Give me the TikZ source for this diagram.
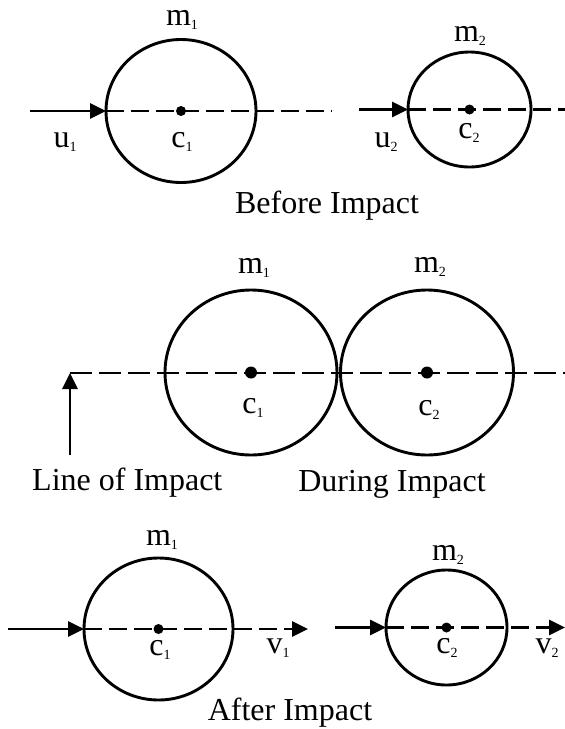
\documentclass[tikz,border=0pt]{standalone}
\usepackage{fontspec}
\setmainfont{Liberation Serif}
\usetikzlibrary{arrows.meta,shapes.geometric}
\newcommand{\sbs}[1]{\raisebox{-4pt}{\fontsize{14}{14}\selectfont #1}}
\begin{document}
\begin{tikzpicture}[x=1pt,y=-1pt,
  ball/.style={draw, ellipse, line width=2.9pt, inner sep=0pt, outer sep=0pt},
  dotc/.style={circle, fill, inner sep=0pt, minimum size=#1},
  dotc/.default=10pt,
  lbl/.style={anchor=base, inner sep=0pt, font=\fontsize{32}{38}\selectfont},
  arr/.style={line width=2.9pt, -{Triangle[length=16pt,width=15pt]}},
  dsh/.style={line width=2.9pt, dash pattern=on 18pt off 7pt},
  dshlong/.style={line width=2.9pt, dash pattern=on 22pt off 7pt}]
\useasboundingbox (0,0) rectangle (565,729);

% ---------- Before impact ----------
\node[ball, minimum width=150pt, minimum height=143pt] (A1) at (181,111) {};
\node[ball, minimum width=123pt, minimum height=115pt] (A2) at (469.5,109.5) {};
\coordinate (a1s) at (30,111);
\coordinate (a1e) at (332,111);
\coordinate (a2s) at (359,109.5);
\coordinate (a2e) at (565,109.5);
\draw[dsh] (A1.west) -- (a1e);
\draw[arr] (a1s) -- (A1.west);
\draw[dsh] (A2.west) -- (a2e);
\draw[arr] (a2s) -- (A2.west);
\node[dotc] (A1c) at (A1.center) {};
\node[dotc] (A2c) at (A2.center) {};
\node[lbl] (tm1) at (182,25) {m\sbs{1}};
\node[lbl] (tu1) at (65,147) {u\sbs{1}};
\node[lbl] (tc1) at (182,147) {c\sbs{1}};
\node[lbl] (tm2) at (470,41) {m\sbs{2}};
\node[lbl] (tu2) at (386,147) {u\sbs{2}};
\node[lbl] (tc2) at (469,138) {c\sbs{2}};
\node[lbl] (tbefore) at (327,213) {Before Impact};

% ---------- During impact ----------
\node[ball, minimum width=172pt, minimum height=165pt] (B1) at (251,372.5) {};
\node[ball, minimum width=173pt, minimum height=165pt] (B2) at (427,372.5) {};
\coordinate (loiS) at (70,455);
\coordinate (loiE) at (70,373);
\coordinate (midE) at (565,373);
\draw[dshlong] (loiE) -- (midE);
\draw[arr] (loiS) -- (loiE);
\node[dotc=12pt] (B1c) at (B1.center) {};
\node[dotc=12pt] (B2c) at (B2.center) {};
\node[lbl] (dm1) at (254,273) {m\sbs{1}};
\node[lbl] (dm2) at (430,272) {m\sbs{2}};
\node[lbl] (dc1) at (253,413) {c\sbs{1}};
\node[lbl] (dc2) at (429,415) {c\sbs{2}};
\node[lbl, anchor=base west] (tloi) at (32,490) {Line of Impact};
\node[lbl] (tduring) at (392,491) {During Impact};

% ---------- After impact ----------
\node[ball, minimum width=149pt, minimum height=142pt] (C1) at (158.5,629) {};
\node[ball, minimum width=121pt, minimum height=115pt] (C2) at (446.5,627.5) {};
\coordinate (b1s) at (8,629);
\coordinate (b1e) at (308,629);
\coordinate (b2s) at (335,627.5);
\coordinate (b2e) at (565,627.5);
\draw[dsh, arr] (C1.west) -- (b1e);
\draw[arr] (b1s) -- (C1.west);
\draw[dsh, arr] (C2.west) -- (b2e);
\draw[arr] (b2s) -- (C2.west);
\node[dotc] (C1c) at (C1.center) {};
\node[dotc] (C2c) at (C2.center) {};
\node[lbl] (am1) at (162,545) {m\sbs{1}};
\node[lbl] (am2) at (448,560) {m\sbs{2}};
\node[lbl] (ac1) at (160,655) {c\sbs{1}};
\node[lbl] (av1) at (278,653) {v\sbs{1}};
\node[lbl] (ac2) at (447,653) {c\sbs{2}};
\node[lbl] (av2) at (547,653) {v\sbs{2}};
\node[lbl] (tafter) at (290,720) {After Impact};
\end{tikzpicture}
\end{document}
